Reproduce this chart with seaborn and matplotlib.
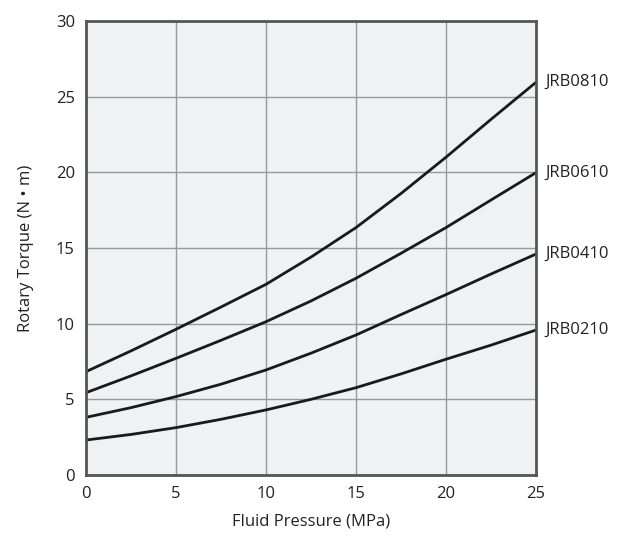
import matplotlib
matplotlib.use("Agg")
import matplotlib.pyplot as plt
import seaborn as sns
import pandas as pd

pressure = [0, 2.5, 5, 7.5, 10, 12.5, 15, 17.5, 20, 22.5, 25]
jrb0810 = [6.83, 8.2, 9.63, 11.1, 12.6, 14.4, 16.35, 18.6, 21.0, 23.5, 25.95]
jrb0610 = [5.44, 6.55, 7.71, 8.9, 10.13, 11.5, 13.0, 14.65, 16.35, 18.17, 19.98]
jrb0410 = [3.81, 4.45, 5.18, 6.0, 6.94, 8.05, 9.25, 10.6, 11.92, 13.28, 14.6]
jrb0210 = [2.31, 2.68, 3.13, 3.68, 4.30, 5.0, 5.77, 6.68, 7.65, 8.58, 9.58]
models = ["JRB0810", "JRB0610", "JRB0410", "JRB0210"]
series = [jrb0810, jrb0610, jrb0410, jrb0210]

rows = []
for name, vals in zip(models, series):
    for p, v in zip(pressure, vals):
        rows.append({"pressure": p, "torque": v, "model": name})
df = pd.DataFrame(rows)

sns.set_theme(style="white")
plt.rcParams['font.family'] = ['Open Sans', 'DejaVu Sans']

fig = plt.figure(figsize=(6.27, 5.41), dpi=100)
ax = fig.add_axes([86/627, 1 - 475/541, 450/627, 454/541])
ax.set_facecolor("#f0f1f3")

sns.lineplot(data=df, x="pressure", y="torque", hue="model",
             palette=["#1a1a1a"] * 4, linewidth=2, legend=False, ax=ax)

ax.set_xlim(0, 25)
ax.set_ylim(0, 30)
ax.set_xticks([0, 5, 10, 15, 20, 25])
ax.set_yticks([0, 5, 10, 15, 20, 25, 30])
ax.grid(True, color="#999999", linewidth=1)
ax.set_axisbelow(True)
for s in ax.spines.values():
    s.set_color("#555555")
    s.set_linewidth(2)
ax.tick_params(axis="both", length=0, labelsize=12, colors="#222222", pad=8)
ax.set_xlabel("Fluid Pressure (MPa)", fontsize=12, color="#222222", labelpad=8)
ax.set_ylabel("Rotary Torque (N • m)", fontsize=12, color="#222222", labelpad=16)

for name, vals in zip(models, series):
    ax.text(25.5, vals[-1], name, fontsize=12, color="#222222",
            va="center", ha="left", clip_on=False)

fig.savefig("out.png", dpi=100)
